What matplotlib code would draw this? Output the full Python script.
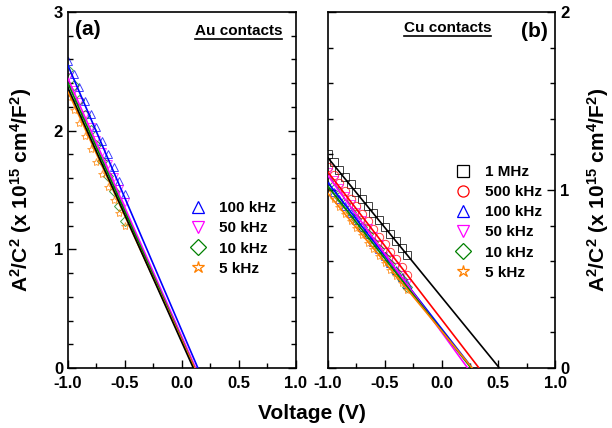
import matplotlib
matplotlib.use("Agg")
import matplotlib.pyplot as plt
from matplotlib.lines import Line2D
from matplotlib.ticker import MultipleLocator

plt.rcParams['font.family'] = ['Liberation Sans', 'DejaVu Sans']
plt.rcParams['font.weight'] = 'bold'
plt.rcParams['mathtext.fontset'] = 'custom'
plt.rcParams['mathtext.rm'] = 'Liberation Sans:bold'
plt.rcParams['mathtext.it'] = 'Liberation Sans:bold'
plt.rcParams['mathtext.bf'] = 'Liberation Sans:bold'
plt.rcParams['mathtext.default'] = 'bf'

# ---------------- Panel (a): Au contacts ----------------
a_labels = ['100 kHz', '50 kHz', '10 kHz', '5 kHz']
a_colors = ['#0000FF', '#FF00FF', '#008000', '#FF8000']
a_markers = ['^', 'v', 'D', '*']
a_V = [-1.0, -0.95, -0.9, -0.85, -0.8, -0.75, -0.7, -0.65, -0.6, -0.55, -0.5]
a_data = [
    [2.59, 2.477, 2.365, 2.252, 2.14, 2.027, 1.915, 1.802, 1.69, 1.577, 1.465],
    [2.45, 2.345, 2.24, 2.135, 2.03, 1.925, 1.82, 1.715, 1.61, 1.505, 1.40],
    [2.51, 2.383, 2.256, 2.129, 2.002, 1.875, 1.748, 1.621, 1.494, 1.367, 1.24],
    [2.28, 2.172, 2.064, 1.956, 1.848, 1.74, 1.632, 1.524, 1.416, 1.308, 1.20],
]
# linear fits: (value at V=-1, V-intercept)
a_fit_colors = ['#0000FF', '#FF00FF', '#008000', '#FF8000', '#000000']
a_fit_start = [2.55, 2.44, 2.40, 2.33, 2.36]
a_fit_v0 = [0.14, 0.12, 0.11, 0.11, 0.10]

# ---------------- Panel (b): Cu contacts ----------------
b_labels = ['1 MHz', '500 kHz', '100 kHz', '50 kHz', '10 kHz', '5 kHz']
b_colors = ['#000000', '#FF0000', '#0000FF', '#FF00FF', '#008000', '#FF8000']
b_markers = ['s', 'o', '^', 'v', 'D', '*']
b_V = [-1.0, -0.95, -0.9, -0.85, -0.8, -0.75, -0.7, -0.65, -0.6, -0.55,
       -0.5, -0.45, -0.4, -0.35, -0.3]
b_data = [
    [1.20, 1.16, 1.115, 1.073, 1.032, 0.99, 0.95, 0.91, 0.87, 0.83, 0.79, 0.75, 0.712, 0.674, 0.636],
    [1.13, 1.085, 1.04, 0.995, 0.952, 0.91, 0.866, 0.823, 0.78, 0.737, 0.694, 0.652, 0.61, 0.567, 0.525],
    [1.03, 0.99, 0.95, 0.91, 0.87, 0.83, 0.79, 0.75, 0.71, 0.67, 0.63, 0.59, 0.55, 0.51, 0.47],
    [1.10, 1.055, 1.01, 0.965, 0.92, 0.875, 0.83, 0.786, 0.742, 0.698, 0.654, 0.61, 0.566, 0.522, 0.478],
    [1.05, 1.005, 0.962, 0.92, 0.877, 0.835, 0.792, 0.75, 0.708, 0.666, 0.624, 0.582, 0.54, 0.498, 0.456],
    [0.99, 0.95, 0.905, 0.865, 0.825, 0.785, 0.745, 0.705, 0.668, 0.63, 0.592, 0.553, 0.515, 0.478, 0.44],
]
b_fit_start = [1.18, 1.10, 1.04, 1.08, 1.02, 0.98]
b_fit_v0 = [0.51, 0.33, 0.27, 0.23, 0.26, 0.27]

ylabel = 'A$^2$/C$^2$ (x 10$^{15}$ cm$^4$/F$^2$)'

fig = plt.figure(figsize=(6.12, 4.28), dpi=100)
axa = fig.add_axes([0.111, 0.1402, 0.3725, 0.8318])
axb = fig.add_axes([0.536, 0.1402, 0.3709, 0.8318])


def style(ax, ymax):
    ax.set_xlim(-1.0, 1.0)
    ax.set_ylim(0, ymax)
    ax.xaxis.set_major_locator(MultipleLocator(0.5))
    ax.xaxis.set_minor_locator(MultipleLocator(0.25))
    ax.yaxis.set_major_locator(MultipleLocator(1))
    ax.yaxis.set_minor_locator(MultipleLocator(0.2))
    ax.tick_params(which='both', direction='in', top=False, left=True, right=True,
                   labelsize=12, width=1.0)
    ax.tick_params(which='major', length=6)
    ax.tick_params(which='minor', length=3.5)
    ax.tick_params(axis='x', which='major', pad=6)
    for s in ax.spines.values():
        s.set_linewidth(1.2)
    ax.set_xticks([-1.0, -0.5, 0.0, 0.5, 1.0])
    ax.set_xticklabels(['-1.0', '-0.5', '0.0', '0.5', '1.0'])


style(axa, 3)
style(axb, 2)
axa.set_yticks([0, 1, 2, 3])
axa.tick_params(labelleft=True, labelright=False)
axb.set_yticks([0, 1, 2])
axb.tick_params(labelleft=False, labelright=True)

# fits first, then data markers
for c, y1, v0 in zip(a_fit_colors, a_fit_start, a_fit_v0):
    axa.plot([-1.0, v0], [y1, 0], color=c, lw=1.2, zorder=3)
for y, c, m in zip(a_data, a_colors, a_markers):
    axa.plot(a_V, y, ls='none', marker=m, mfc='none', mec=c, mew=0.7,
             ms=6 if m != 'D' else 5, alpha=0.75, zorder=2)

for c, y1, v0 in zip(b_colors, b_fit_start, b_fit_v0):
    axb.plot([-1.0, v0], [y1, 0], color=c, lw=1.2, zorder=3)
for y, c, m in zip(b_data, b_colors, b_markers):
    axb.plot(b_V, y, ls='none', marker=m, mfc='none', mec=c, mew=0.7,
             ms=6 if m != 'D' else 5, alpha=0.75, zorder=2)

# legends
def handles(colors, markers):
    return [Line2D([], [], ls='none', marker=m, mfc='none', mec=c, mew=0.9,
                   ms=9 if m not in ('D', 'o') else 8) for c, m in zip(colors, markers)]

axa.legend(handles(a_colors, a_markers), a_labels, loc='upper left',
           bbox_to_anchor=(0.535, 0.468), frameon=False, fontsize=11,
           handlelength=1.0, handletextpad=0.9, labelspacing=0.4,
           borderpad=0, borderaxespad=0)
axb.legend(handles(b_colors, b_markers), b_labels, loc='upper left',
           bbox_to_anchor=(0.563, 0.57), frameon=False, fontsize=11,
           handlelength=1.0, handletextpad=0.9, labelspacing=0.4,
           borderpad=0, borderaxespad=0)

# panel labels
axa.text(0.03, 0.952, '(a)', transform=axa.transAxes, fontsize=15,
         fontweight='bold', ha='left', va='center')
axb.text(0.97, 0.945, '(b)', transform=axb.transAxes, fontsize=15,
         fontweight='bold', ha='right', va='center')
ta = axa.text(0.94, 0.947, 'Au contacts', transform=axa.transAxes, fontsize=11,
              fontweight='bold', ha='right', va='center')
tb = axb.text(0.72, 0.955, 'Cu contacts', transform=axb.transAxes, fontsize=11,
              fontweight='bold', ha='right', va='center')

fig.text(0.51, 0.035, 'Voltage (V)', fontsize=15, fontweight='bold',
         ha='center', va='center')
fig.text(0.035, 0.556, ylabel, fontsize=15, fontweight='bold', rotation=90,
         ha='center', va='center')
fig.text(0.977, 0.556, ylabel, fontsize=15, fontweight='bold', rotation=90,
         ha='center', va='center')

# underline the contact labels
fig.canvas.draw()
r = fig.canvas.get_renderer()
for t, ax in ((ta, axa), (tb, axb)):
    bb = t.get_window_extent(r).transformed(ax.transAxes.inverted())
    ax.plot([bb.x0, bb.x1], [bb.y0 - 0.002, bb.y0 - 0.002], transform=ax.transAxes,
            color='black', lw=1.2, clip_on=False)

fig.savefig('out.png', dpi=100)
